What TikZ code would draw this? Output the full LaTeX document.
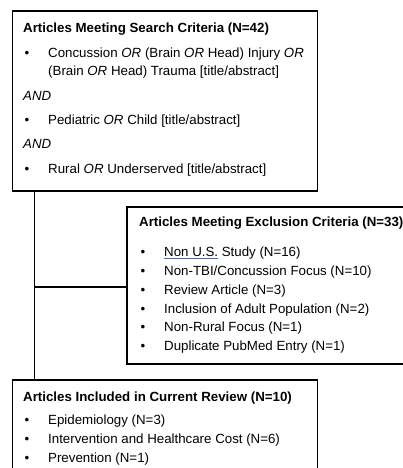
\documentclass[tikz,border=0pt]{standalone}
\usepackage{fontspec}
\setmainfont{Liberation Sans}
\usepackage{tikz}
\usetikzlibrary{calc}

\definecolor{spellblue}{RGB}{70,100,215}
\newcommand{\bul}{\makebox[25pt][l]{\hspace{1.5pt}\textbullet}}
\newcommand{\spellmark}[1]{\sbox0{#1}\rlap{\color{spellblue}\rule[-2.4pt]{\wd0}{0.9pt}}#1}

\begin{document}
\begin{tikzpicture}[x=1pt, y=-1pt,
    box/.style={draw, line width=1.9pt, anchor=north west, inner sep=0pt},
    txt/.style={anchor=north west, align=left, inner sep=0pt, font=\fontsize{13.3}{18.8}\selectfont},
    link/.style={line width=1.9pt}]
    \useasboundingbox (0,0) rectangle (403,468);
    \clip (0,0) rectangle (403,468);
    % the three boxes
    \node[box, minimum width=305pt, minimum height=179.5pt] (search) at (11.5,10.5) {};
    \node[box, minimum width=290pt, minimum height=157pt] (exclusion) at (126,206) {};
    \node[box, minimum width=305pt, minimum height=120pt] (included) at (11.5,379) {};
    % texts
    \node[txt] (searchtext) at (23,23) {\textbf{Articles Meeting Search Criteria (N=42)}\\[5.5pt]
        \bul Concussion \textit{OR} (Brain \textit{OR} Head) Injury \textit{OR}\\
        \hspace*{25pt}(Brain \textit{OR} Head) Trauma [title/abstract]\\[5.5pt]
        \textit{AND}\\[5.5pt]
        \bul Pediatric \textit{OR} Child [title/abstract]\\[5.5pt]
        \textit{AND}\\[5.5pt]
        \bul Rural \textit{OR} Underserved [title/abstract]};
    \node[txt] (exclusiontext) at (139,217) {\textbf{Articles Meeting Exclusion Criteria (N=33)}\\[11pt]
        \bul \spellmark{Non U.S.} Study (N=16)\\
        \bul Non-TBI/Concussion Focus (N=10)\\
        \bul Review Article (N=3)\\
        \bul Inclusion of Adult Population (N=2)\\
        \bul Non-Rural Focus (N=1)\\
        \bul Duplicate PubMed Entry (N=1)};
    \node[txt] (includedtext) at (23,392) {\textbf{Articles Included in Current Review (N=10)}\\[4pt]
        \bul Epidemiology (N=3)\\
        \bul Intervention and Healthcare Cost (N=6)\\
        \bul Prevention (N=1)};
    % connectors
    \coordinate (branch) at (34.5,287);
    \draw[link] (search.south -| branch) -- (included.north -| branch);
    \draw[link] (branch) -- (exclusion.west |- branch);
\end{tikzpicture}
\end{document}
